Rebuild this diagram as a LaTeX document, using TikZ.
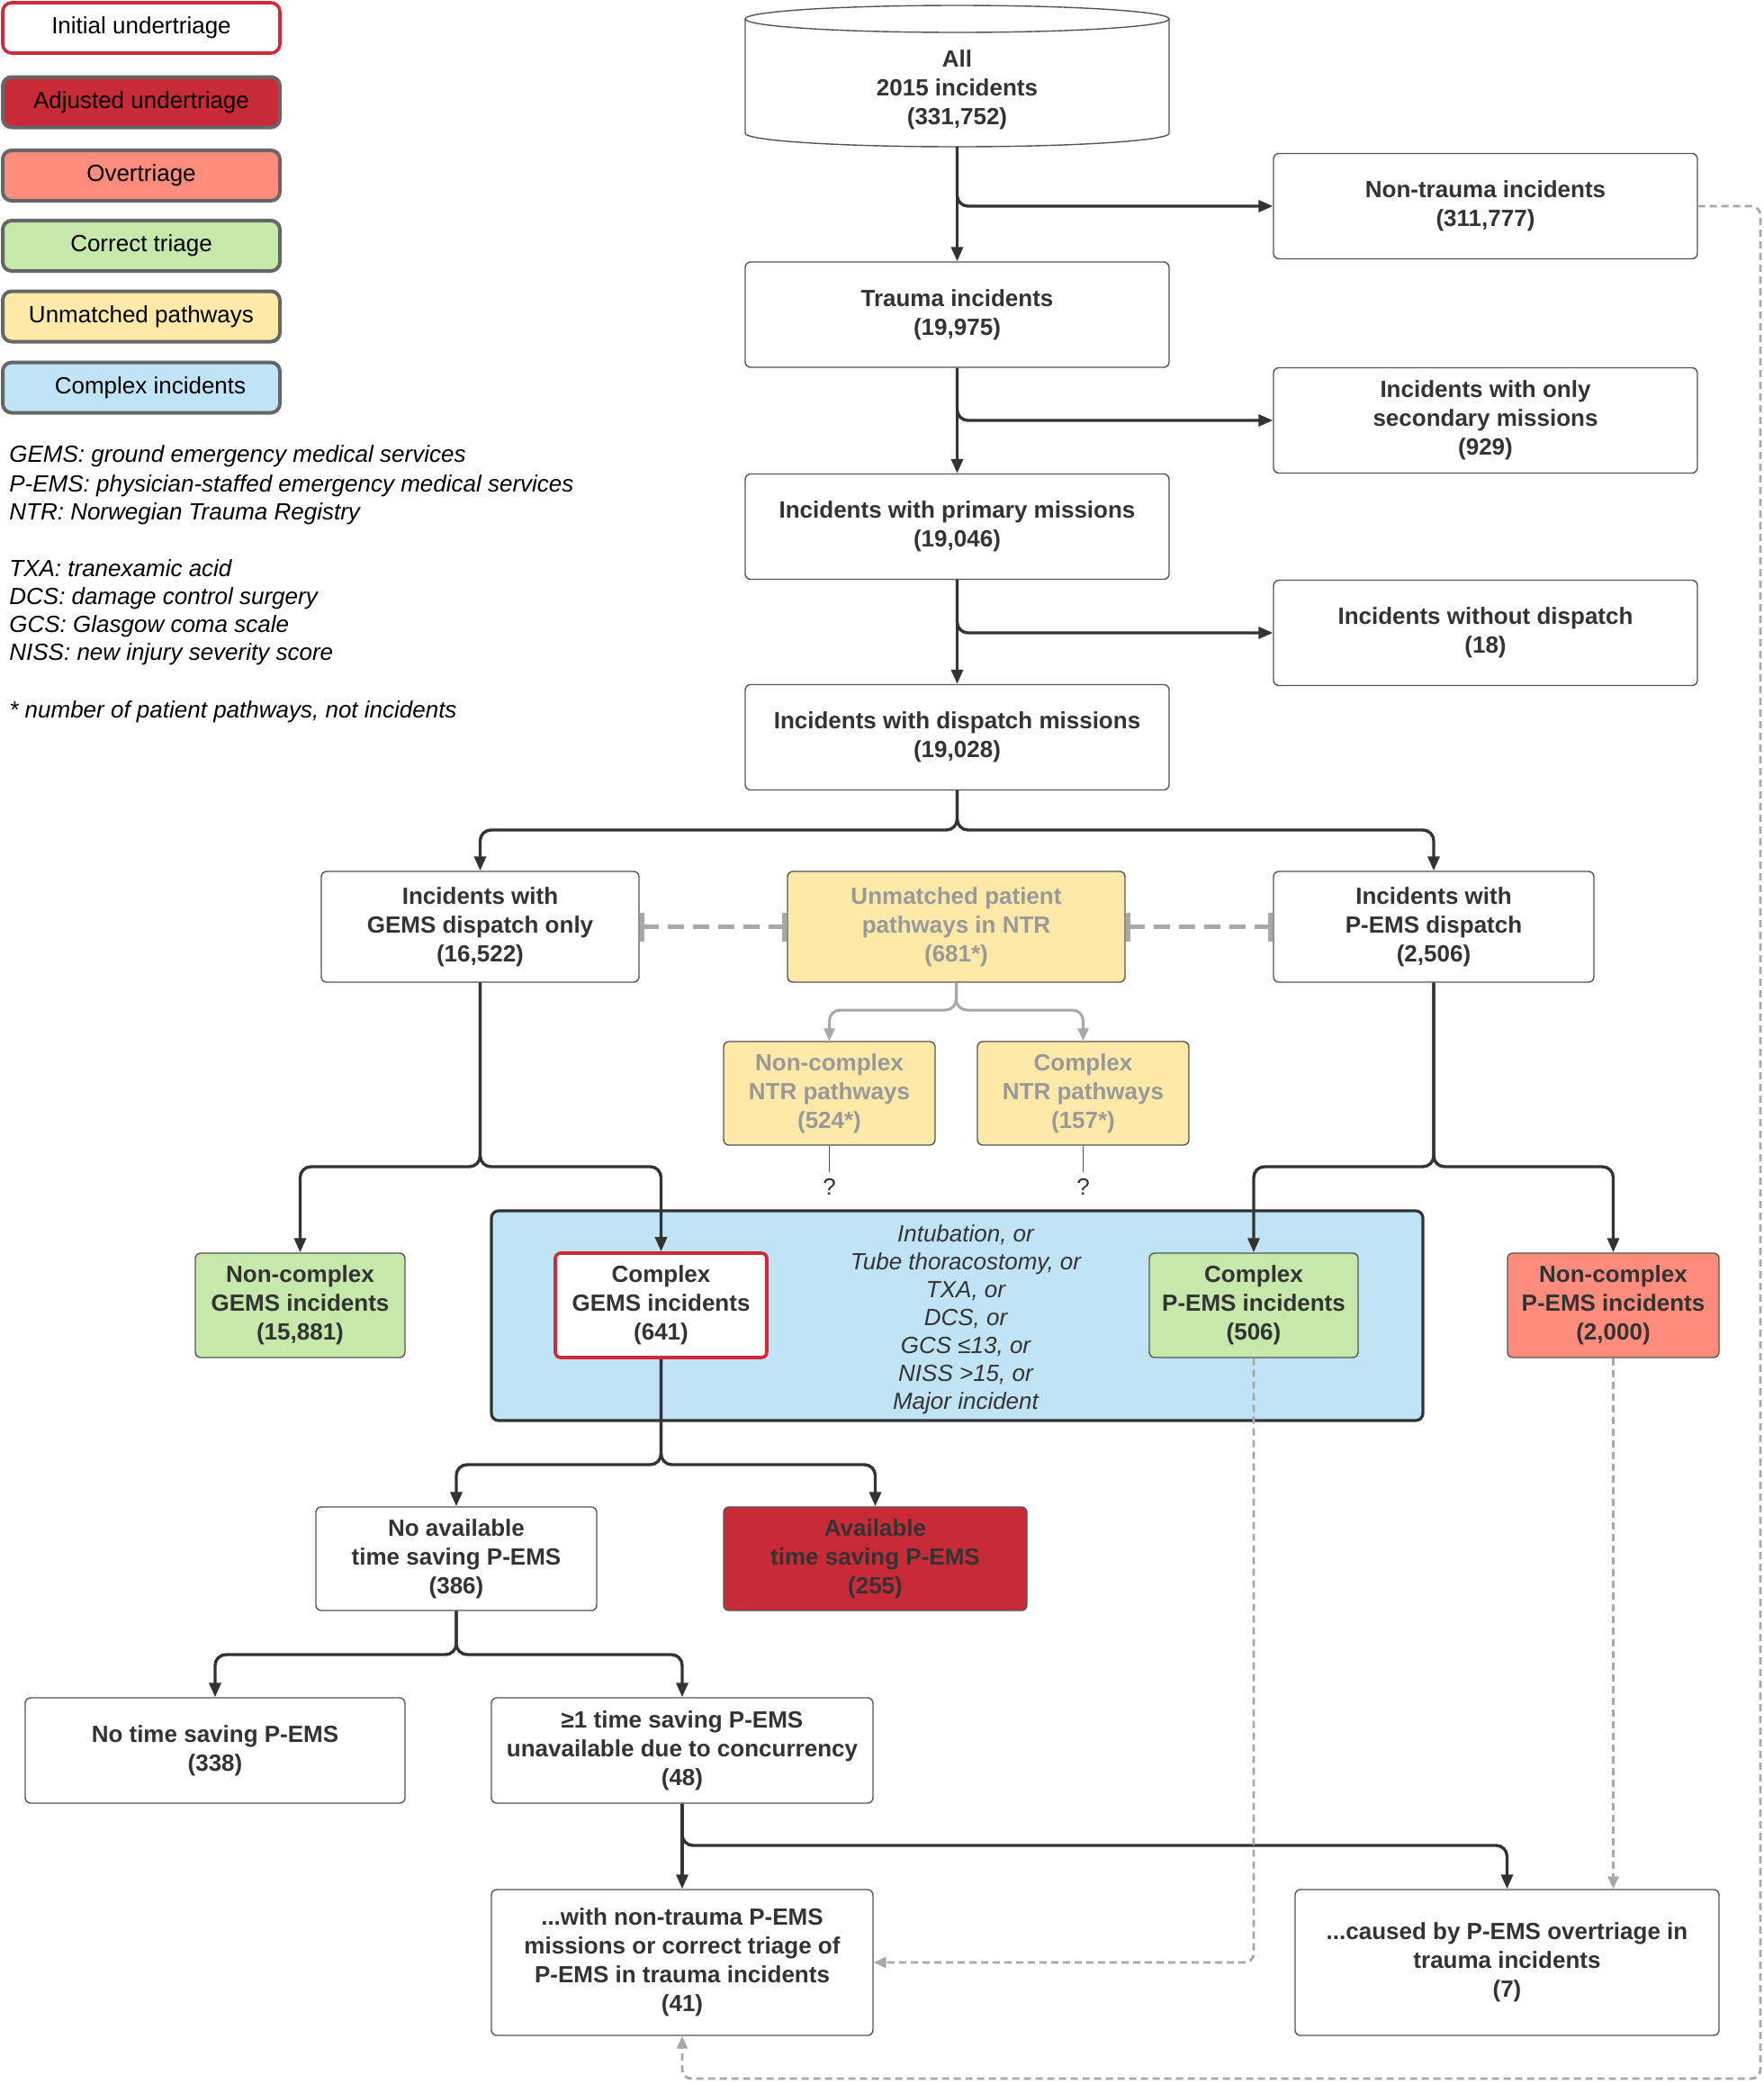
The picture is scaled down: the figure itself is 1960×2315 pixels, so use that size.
\documentclass[tikz,border=0pt]{standalone}
\usepackage{fontspec}
\setmainfont{Liberation Sans}
\usetikzlibrary{arrows.meta}
\definecolor{textdark}{HTML}{333333}
\definecolor{boxline}{HTML}{555555}
\definecolor{conncol}{HTML}{333333}
\definecolor{graylink}{HTML}{A8A8A8}
\definecolor{legline}{HTML}{666666}
\definecolor{redline}{HTML}{D0293A}
\definecolor{adjfill}{HTML}{C82A38}
\definecolor{overfill}{HTML}{FF8C7D}
\definecolor{correctfill}{HTML}{C6E8AA}
\definecolor{unmatchfill}{HTML}{FFE9A8}
\definecolor{complexfill}{HTML}{C1E3F6}
\definecolor{unmatchtext}{HTML}{999999}
\begin{document}
\begin{tikzpicture}[x=0.5pt,y=-0.5pt,
  box/.style={draw=boxline, line width=0.7pt, rounded corners=3pt, align=center, inner sep=0pt, text=textdark, font=\bfseries\fontsize{13}{16}\selectfont},
  legbox/.style={draw=legline, line width=2pt, rounded corners=5pt, minimum width=154pt, minimum height=28pt, inner sep=0pt, text=black, font=\fontsize{13}{16}\selectfont},
  conn/.style={draw=conncol, line width=1.7pt, rounded corners=6pt, -{Triangle[length=8pt,width=6.5pt]}},
  grayconn/.style={draw=graylink, line width=1.5pt, rounded corners=6pt, -{Triangle[length=7pt,width=6pt]}},
  graydash/.style={draw=graylink, line width=1.4pt, dash pattern=on 4pt off 2.5pt, rounded corners=5pt, -{Triangle[length=7pt,width=6pt]}},
  pairlink/.style={draw=graylink, line width=2.2pt, dash pattern=on 9pt off 5pt, {Bar[width=16pt,line width=2.5pt]}-{Bar[width=16pt,line width=2.5pt]}},
  qline/.style={draw=boxline, line width=0.6pt},
  abbr/.style={anchor=base west, inner sep=0pt, text=black, font=\itshape\fontsize{13}{16}\selectfont},
]
\useasboundingbox (0,0) rectangle (1960,2315);
\fill[white] (0,0) rectangle (1960,2315);

% legend
\node[legbox, draw=redline, line width=1.8pt, fill=white] (leg1) at (157,31) {Initial undertriage};
\node[legbox, fill=adjfill] (leg2) at (157,113.5) {Adjusted undertriage};
\node[legbox, fill=overfill] (leg3) at (157,195) {Overtriage};
\node[legbox, fill=correctfill] (leg4) at (157,273) {Correct triage};
\node[legbox, fill=unmatchfill] (leg5) at (157,351.5) {Unmatched pathways};
\node[legbox, fill=complexfill] (leg6) at (157,430.5) {\hspace*{10pt}Complex incidents};

\node[abbr] (ab1) at (10,513) {GEMS: ground emergency medical services};
\node[abbr] (ab2) at (10,546) {P-EMS: physician-staffed emergency medical services};
\node[abbr] (ab3) at (10,577) {NTR: Norwegian Trauma Registry};
\node[abbr] (ab4) at (10,640) {TXA: tranexamic acid};
\node[abbr] (ab5) at (10,671) {DCS: damage control surgery};
\node[abbr] (ab6) at (10,702) {GCS: Glasgow coma scale};
\node[abbr] (ab7) at (10,733) {NISS: new injury severity score};
\node[abbr] (ab8) at (10,797) {* number of patient pathways, not incidents};

% cylinder
\draw[boxline, line width=0.7pt, fill=white] (828,21) -- (828,148) arc[start angle=180, end angle=360, x radius=117.75pt, y radius=7.5pt] -- (1299,21);
\draw[boxline, line width=0.7pt, fill=white] (1063.5,21) ellipse [x radius=117.75pt, y radius=7.5pt];
\node[align=center, inner sep=0pt, text=textdark, font=\bfseries\fontsize{13}{16}\selectfont] (all) at (1063.5,100) {All\\2015 incidents\\(331,752)};
\coordinate (allb) at (1063.5,163);

% main column
\node[box, minimum width=235.5pt, minimum height=58.5pt] (nontrauma) at (1650.5,229) {Non-trauma incidents\\(311,777)};
\node[box, minimum width=235.5pt, minimum height=58.5pt] (trauma) at (1063.5,349.5) {Trauma incidents\\(19,975)};
\node[box, minimum width=235.5pt, minimum height=58.5pt] (secondary) at (1650.5,467) {Incidents with only\\secondary missions\\(929)};
\node[box, minimum width=235.5pt, minimum height=58.5pt] (primary) at (1063.5,585) {Incidents with primary missions\\(19,046)};
\node[box, minimum width=235.5pt, minimum height=58.5pt] (nodispatch) at (1650.5,703) {Incidents without dispatch\\(18)};
\node[box, minimum width=235.5pt, minimum height=58.5pt] (dispatch) at (1063.5,819) {Incidents with dispatch missions\\(19,028)};

% second row
\node[box, minimum width=176.5pt, minimum height=61.5pt] (gems) at (533.5,1029.5) {Incidents with\\GEMS dispatch only\\(16,522)};
\node[box, minimum width=187.5pt, minimum height=61.5pt, fill=unmatchfill, text=unmatchtext] (unmatched) at (1062.5,1029.5) {Unmatched patient\\pathways in NTR\\(681*)};
\node[box, minimum width=178pt, minimum height=61.5pt] (pems) at (1593,1029.5) {Incidents with\\P-EMS dispatch\\(2,506)};

\node[box, minimum width=117.5pt, minimum height=57.5pt, fill=unmatchfill, text=unmatchtext] (ncntr) at (921.5,1214.5) {Non-complex\\NTR pathways\\(524*)};
\node[box, minimum width=117.5pt, minimum height=57.5pt, fill=unmatchfill, text=unmatchtext] (cntr) at (1203.5,1214.5) {Complex\\NTR pathways\\(157*)};
\node[text=textdark, font=\fontsize{13}{16}\selectfont] (q1) at (921.5,1318) {?};
\node[text=textdark, font=\fontsize{13}{16}\selectfont] (q2) at (1203.5,1318) {?};

% complex box
\node[draw=conncol, line width=1.6pt, rounded corners=4pt, fill=complexfill, minimum width=517.5pt, minimum height=116.5pt, inner sep=0pt] (complexbox) at (1063.5,1461.5) {};
\node[align=center, inner sep=0pt, text=textdark, font=\itshape\fontsize{13}{15.5}\selectfont] (criteria) at (1073,1466) {Intubation, or\\Tube thoracostomy, or\\TXA, or\\DCS, or\\GCS ≤13, or\\NISS >15, or\\Major incident};

\node[box, minimum width=116.5pt, minimum height=58pt, fill=correctfill] (ncgems) at (333.5,1450) {Non-complex\\GEMS incidents\\(15,881)};
\node[box, minimum width=117.5pt, minimum height=58pt, fill=white, draw=redline, line width=1.8pt] (cgems) at (734.5,1450) {Complex\\GEMS incidents\\(641)};
\node[box, minimum width=116pt, minimum height=58pt, fill=correctfill] (cpems) at (1393,1450) {Complex\\P-EMS incidents\\(506)};
\node[box, minimum width=117.5pt, minimum height=58pt, fill=overfill] (ncpems) at (1792.5,1450) {Non-complex\\P-EMS incidents\\(2,000)};

\node[box, minimum width=156pt, minimum height=57.5pt] (noavail) at (507,1731.5) {No available\\time saving P-EMS\\(386)};
\node[box, minimum width=168.5pt, minimum height=57.5pt, fill=adjfill] (avail) at (972.5,1731.5) {Available\\time saving P-EMS\\(255)};

\node[box, minimum width=211pt, minimum height=58.5pt] (notime) at (239,1944.5) {No time saving P-EMS\\(338)};
\node[box, minimum width=212pt, minimum height=58.5pt] (ge1) at (758,1944.5) {≥1 time saving P-EMS\\unavailable due to concurrency\\(48)};
\node[box, minimum width=212pt, minimum height=81pt] (withnt) at (758,2180) {...with non-trauma P-EMS\\missions or correct triage of\\P-EMS in trauma incidents\\(41)};
\node[box, minimum width=235.5pt, minimum height=81pt] (caused) at (1674.5,2180) {...caused by P-EMS overtriage in\\trauma incidents\\(7)};

% split points
\coordinate (s1) at (1063.5,922);
\coordinate (s2) at (1062.5,1122);
\coordinate (s3) at (533.5,1296);
\coordinate (s4) at (1593,1296);
\coordinate (s5) at (734.5,1627);
\coordinate (s6) at (507,1838);
\coordinate (s7) at (758,2050);
\coordinate (c1) at (1956,229);
\coordinate (c2) at (1956,2309);
\coordinate (c3) at (758,2309);

% connectors
\draw[conn] (allb) -- (trauma.north);
\draw[conn] (allb) |- (nontrauma.west);
\draw[conn] (trauma.south) -- (primary.north);
\draw[conn] (trauma.south) |- (secondary.west);
\draw[conn] (primary.south) -- (dispatch.north);
\draw[conn] (primary.south) |- (nodispatch.west);
\draw[conn] (dispatch.south) -- (s1) -| (gems.north);
\draw[conn] (dispatch.south) -- (s1) -| (pems.north);

\draw[pairlink] (gems.east) -- (unmatched.west);
\draw[pairlink] (unmatched.east) -- (pems.west);

\draw[grayconn] (unmatched.south) -- (s2) -| (ncntr.north);
\draw[grayconn] (unmatched.south) -- (s2) -| (cntr.north);
\draw[qline] (ncntr.south) -- (q1.north);
\draw[qline] (cntr.south) -- (q2.north);

\draw[conn] (gems.south) -- (s3) -| (ncgems.north);
\draw[conn] (gems.south) -- (s3) -| (cgems.north);
\draw[conn] (pems.south) -- (s4) -| (cpems.north);
\draw[conn] (pems.south) -- (s4) -| (ncpems.north);

\draw[conn] (cgems.south) -- (s5) -| (noavail.north);
\draw[conn] (cgems.south) -- (s5) -| (avail.north);
\draw[conn] (noavail.south) -- (s6) -| (notime.north);
\draw[conn] (noavail.south) -- (s6) -| (ge1.north);
\draw[conn] (ge1.south) -- (withnt.north);
\draw[conn] (ge1.south) -- (s7) -| (caused.north);

\draw[graydash] (cpems.south) |- (withnt.east);
\draw[graydash] (ncpems.south) -- (ncpems.south |- caused.north);
\draw[graydash] (nontrauma.east) -- (c1) -- (c2) -- (c3) -- (withnt.south);
\end{tikzpicture}
\end{document}
